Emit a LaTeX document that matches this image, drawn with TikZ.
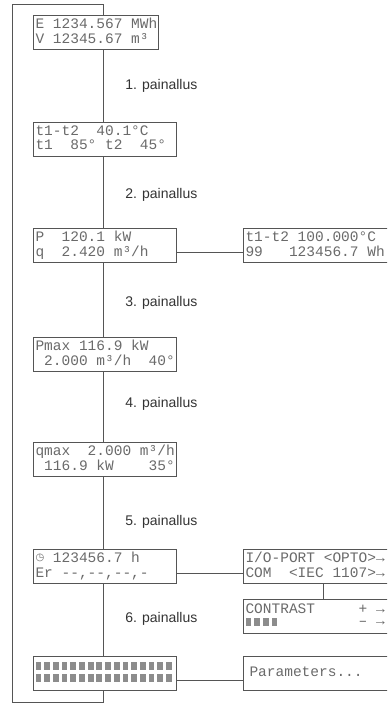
\documentclass[tikz,border=0pt]{standalone}
\usepackage{fontspec}
\setmainfont{Liberation Sans}
\newfontfamily\lcdfont{Liberation Mono}
\newfontfamily\symfont{DejaVu Sans}
\usetikzlibrary{calc}
\definecolor{linecol}{HTML}{555555}
\definecolor{lcdcol}{HTML}{6A6A6A}
\definecolor{labcol}{HTML}{333333}
\definecolor{blkcol}{HTML}{8C8C8C}
\newcommand\ls{\rule[-2.5pt]{0pt}{8pt}}
\newcommand\chs{\hspace*{6.526pt}}
\newcommand\blk{\textcolor{blkcol}{\rule{4.4pt}{5.8pt}}\kern2.126pt}
\newcommand\blkfour{\blk\blk\blk\blk}
\newcommand\blkrow{\blkfour\blkfour\blkfour\blkfour}
\newcommand\clocksym{\makebox[6.526pt][l]{\raisebox{1.8pt}{\symfont\fontsize{7.5pt}{7.5pt}\selectfont ◷}}}
\tikzset{
  conn/.style={draw=linecol, line width=0.75pt},
  lcdbox/.style={draw=linecol, line width=0.75pt, anchor=north west,
    inner xsep=1.5pt, inner ysep=0pt, minimum height=25.5pt,
    align=left, text=lcdcol,
    font={\lcdfont\fontsize{10.875pt}{9pt}\selectfont}},
  narrowbox/.style={lcdbox, text width=90.75pt},
  mainbox/.style={lcdbox, text width=104.25pt},
  sidebox/.style={lcdbox, text width=114.75pt},
  presslabel/.style={anchor=base west, text=labcol, inner sep=0pt,
    font={\fontsize{10.5pt}{12pt}\selectfont}}
}
\begin{document}
\begin{tikzpicture}[x=0.75pt, y=-0.75pt]
\useasboundingbox (0,0) rectangle (387,703);
\clip (0,0) rectangle (387,703);
% main column
\node[narrowbox] (b1) at (33,15) {\ls E\chs1234.567\chs MWh\\\ls V\chs12345.67\chs m³};
\node[mainbox] (b2) at (33,122) {\ls t1-t2\chs\chs40.1°C\\\ls t1\chs\chs85°\chs t2\chs\chs45°};
\node[mainbox] (b3) at (33,228) {\ls P\chs\chs120.1\chs kW\\\ls q\chs\chs2.420\chs m³/h};
\node[mainbox] (b4) at (33,337) {\ls Pmax\chs116.9\chs kW\\\ls \chs2.000\chs m³/h\chs\chs40°};
\node[mainbox] (b5) at (33,442) {\ls qmax\chs\chs2.000\chs m³/h\\\ls \chs116.9\chs kW\chs\chs\chs\chs35°};
\node[mainbox] (b6) at (33,549) {\ls \clocksym\chs123456.7\chs h\\\ls Er\chs--,--,--,-};
\node[mainbox] (b7) at (33,656) {\ls \blkrow\\\ls \blkrow};
% side column
\node[sidebox] (ra) at (243,228) {\ls t1-t2\chs100.000°C\\\ls 99\chs\chs\chs123456.7\chs Wh};
\node[sidebox] (rb) at (243,549) {\ls I/O-PORT\chs<OPTO>→\\\ls COM\chs\chs<IEC\chs1107>→};
\node[sidebox] (rc) at (243,599) {\ls CONTRAST\chs\chs\chs\chs\chs+\chs→\\\ls \blkfour\chs\chs\chs\chs\chs\chs\chs\chs\chs–\chs→};
\node[sidebox] (rd) at (243,656) {\ls \hspace{3pt}Parameters...};
% labels
\node[presslabel] (l1) at (125,89) {1. painallus};
\node[presslabel] (l2) at (125,198) {2. painallus};
\node[presslabel] (l3) at (125,306) {3. painallus};
\node[presslabel] (l4) at (125,407) {4. painallus};
\node[presslabel] (l5) at (125,525) {5. painallus};
\node[presslabel] (l6) at (125,622) {6. painallus};
% coordinates
\coordinate (cx) at (103,0);
\coordinate (sx) at (323,0);
\coordinate (tl) at (12,4);
\coordinate (bl) at (12,702);
% connectors
\draw[conn] (b1.north -| cx) -- (cx |- tl) -- (tl) -- (bl) -- (cx |- bl) -- (b7.south -| cx);
\draw[conn] (b1.south -| cx) -- (b2.north -| cx);
\draw[conn] (b2.south -| cx) -- (b3.north -| cx);
\draw[conn] (b3.south -| cx) -- (b4.north -| cx);
\draw[conn] (b4.south -| cx) -- (b5.north -| cx);
\draw[conn] (b5.south -| cx) -- (b6.north -| cx);
\draw[conn] (b6.south -| cx) -- (b7.north -| cx);
\draw[conn] ($(b3.south east)+(0,-10.5)$) -- ($(ra.south west)+(0,-10.5)$);
\draw[conn] ($(b6.south east)+(0,-10.5)$) -- ($(rb.south west)+(0,-10.5)$);
\draw[conn] ($(b7.south east)+(0,-10.5)$) -- ($(rd.south west)+(0,-10.5)$);
\draw[conn] (rb.south -| sx) -- (rc.north -| sx);
\end{tikzpicture}
\end{document}
